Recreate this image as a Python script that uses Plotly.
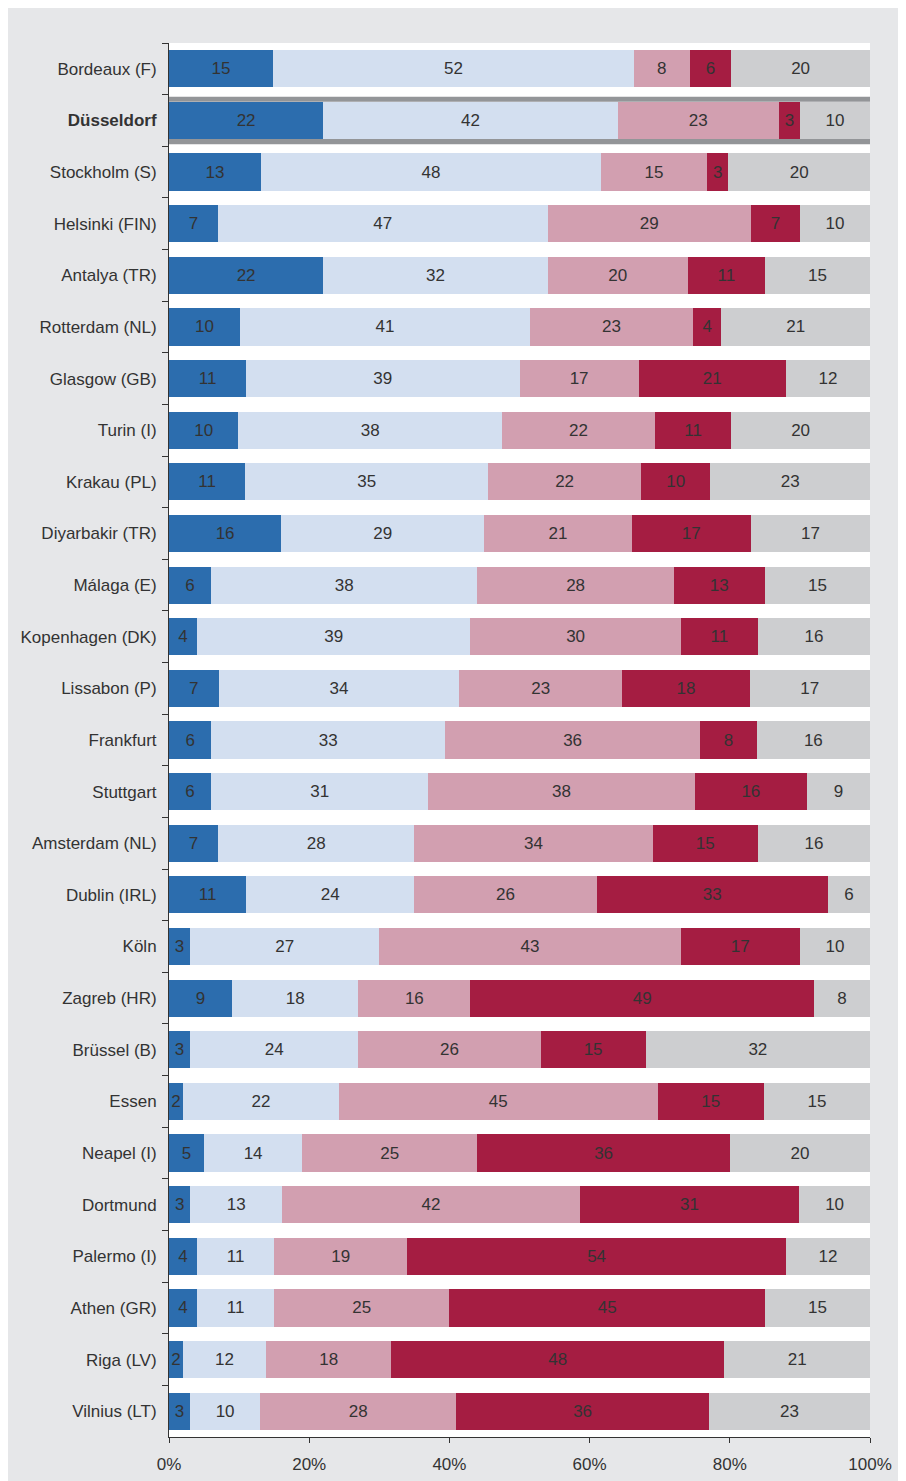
import plotly.graph_objects as go

cities = ["Bordeaux (F)", "Düsseldorf", "Stockholm (S)", "Helsinki (FIN)", "Antalya (TR)",
          "Rotterdam (NL)", "Glasgow (GB)", "Turin (I)", "Krakau (PL)", "Diyarbakir (TR)",
          "Málaga (E)", "Kopenhagen (DK)", "Lissabon (P)", "Frankfurt", "Stuttgart",
          "Amsterdam (NL)", "Dublin (IRL)", "Köln", "Zagreb (HR)", "Brüssel (B)", "Essen",
          "Neapel (I)", "Dortmund", "Palermo (I)", "Athen (GR)", "Riga (LV)", "Vilnius (LT)"]

s1 = [15, 22, 13, 7, 22, 10, 11, 10, 11, 16, 6, 4, 7, 6, 6, 7, 11, 3, 9, 3, 2, 5, 3, 4, 4, 2, 3]
s2 = [52, 42, 48, 47, 32, 41, 39, 38, 35, 29, 38, 39, 34, 33, 31, 28, 24, 27, 18, 24, 22, 14, 13, 11, 11, 12, 10]
s3 = [8, 23, 15, 29, 20, 23, 17, 22, 22, 21, 28, 30, 23, 36, 38, 34, 26, 43, 16, 26, 45, 25, 42, 19, 25, 18, 28]
s4 = [6, 3, 3, 7, 11, 4, 21, 11, 10, 17, 13, 11, 18, 8, 16, 15, 33, 17, 49, 15, 15, 36, 31, 54, 45, 48, 36]
s5 = [20, 10, 20, 10, 15, 21, 12, 20, 23, 17, 15, 16, 17, 16, 9, 16, 6, 10, 8, 32, 15, 20, 10, 12, 15, 21, 23]

series = [s1, s2, s3, s4, s5]
colors = ["#2c6dae", "#d3dff0", "#d29fb0", "#a51d42", "#cdced0"]
highlight = "Düsseldorf"
tick_vals_x = [0, 20, 40, 60, 80, 100]
tick_text_x = ["0%", "20%", "40%", "60%", "80%", "100%"]

FONT = "Liberation Sans"
FS = 17
labels = [f"<b>{c}</b>" if c == highlight else c for c in cities]

fig = go.Figure()
for vals, col in zip(series, colors):
    fig.add_trace(go.Bar(
        y=labels, x=vals, orientation="h", marker=dict(color=col, line=dict(width=0)),
        text=vals, texttemplate="%{text}", textposition="inside",
        insidetextanchor="middle", constraintext="none",
        textfont=dict(color="#333333", size=FS, family=FONT),
        hoverinfo="skip", showlegend=False,
    ))

half = 0.36
thick = 0.1
hi = cities.index(highlight)
for y0, y1 in [(hi - half - thick, hi - half), (hi + half, hi + half + thick)]:
    fig.add_shape(type="rect", xref="x", yref="y", x0=0, x1=100, y0=y0, y1=y1,
                  fillcolor="#939598", line=dict(width=0), layer="above")

fig.update_layout(
    width=930, height=1481, barmode="stack", barnorm="percent", bargap=0.28,
    paper_bgcolor="#e6e7e9", plot_bgcolor="white",
    margin=dict(l=161, r=68, t=35, b=52),
    font=dict(family=FONT, size=FS, color="#333333"),
    uniformtext=dict(minsize=FS, mode="show"),
    xaxis=dict(range=[0, 100], tickvals=tick_vals_x, ticktext=tick_text_x, showgrid=False,
               zeroline=False, showline=True, linecolor="#333333", linewidth=1,
               ticks="outside", ticklen=5, tickcolor="#333333", ticklabelstandoff=7,
               tickfont=dict(size=FS, color="#333333")),
    yaxis=dict(autorange="reversed", showgrid=False, zeroline=False, showline=True,
               linecolor="#333333", linewidth=1, ticks="outside", ticklen=6,
               tickcolor="#333333", tickson="boundaries", ticklabelstandoff=8,
               tickfont=dict(size=FS, color="#333333")),
)

fig.write_html(
    "out.html",
    post_script="document.documentElement.style.overflow='hidden';document.body.style.overflow='hidden';",
)
